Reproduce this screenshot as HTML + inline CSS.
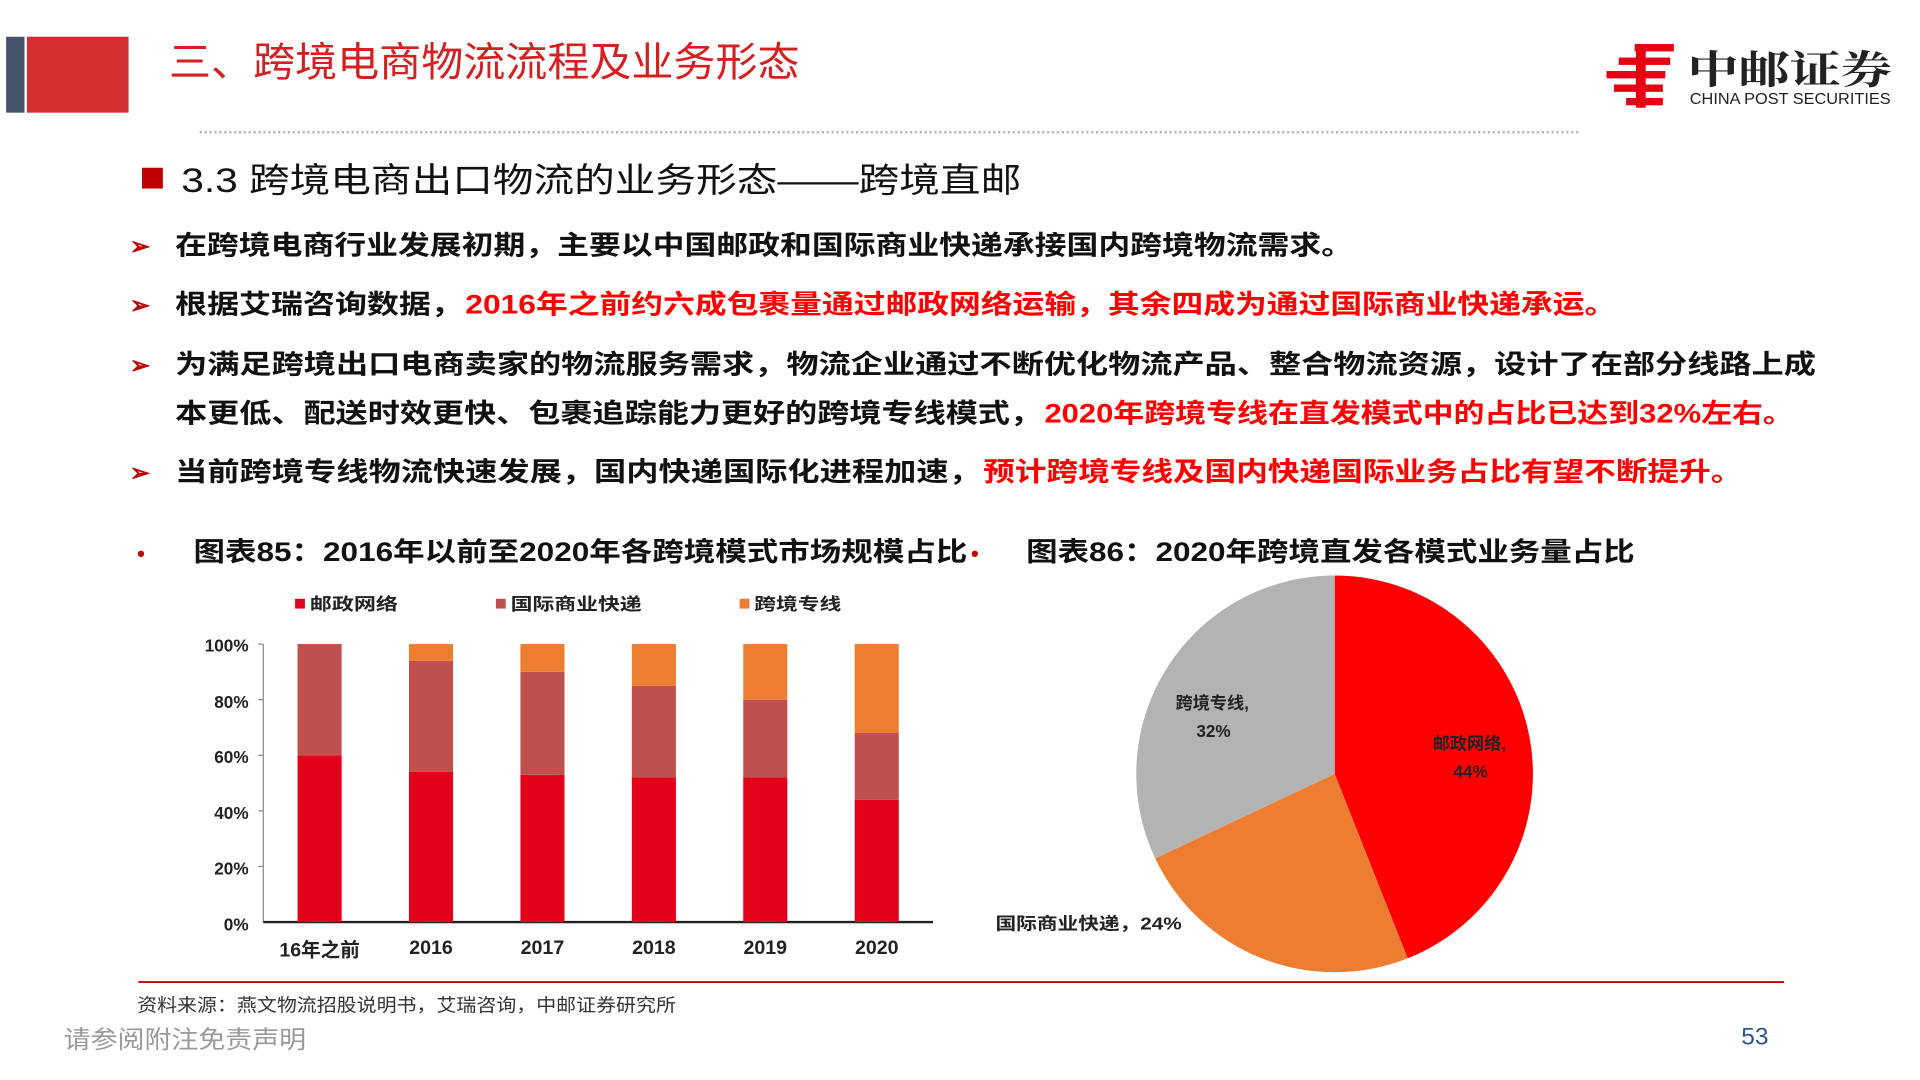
<!DOCTYPE html>
<html><head><meta charset="utf-8"><style>
html,body{margin:0;padding:0;background:#fff;width:1920px;height:1080px;overflow:hidden}
svg{display:block}
text{font-family:"Liberation Sans","Noto Sans CJK SC",sans-serif}
.k{font-family:"Liberation Serif","Noto Serif CJK SC",serif;font-weight:bold}
</style></head><body>
<svg width="1920" height="1080" viewBox="0 0 1568 882" xmlns="http://www.w3.org/2000/svg">
<rect x="5" y="30" width="15" height="62" fill="#44546A"/>
<rect x="22" y="30" width="83" height="62" fill="#D32F2F"/>
<text x="138" y="62" font-size="33" fill="#D42020" textLength="515" lengthAdjust="spacingAndGlyphs">三、跨境电商物流流程及业务形态</text>
<line x1="163" y1="108" x2="1290" y2="108" stroke="#bbb" stroke-width="2" stroke-dasharray="2 2"/>
<g fill="#E60012">
<rect x="1335" y="36" width="32" height="6"/><rect x="1322" y="47" width="42" height="6"/>
<rect x="1312" y="58" width="48" height="6"/><rect x="1318" y="69" width="40" height="6"/>
<rect x="1328" y="80" width="30" height="6"/><rect x="1336" y="38" width="8" height="50"/>
</g>
<text x="1378" y="68" font-size="32" fill="#222" class="k" textLength="167" lengthAdjust="spacingAndGlyphs">中邮证券</text>
<text x="1380" y="85" font-size="12.5" fill="#222" textLength="164" lengthAdjust="spacingAndGlyphs">CHINA POST SECURITIES</text>

<rect x="116" y="137" width="17" height="17" fill="#C00000"/>
<text x="148" y="157" font-size="28" fill="#111" textLength="686" lengthAdjust="spacingAndGlyphs">3.3 跨境电商出口物流的业务形态——跨境直邮</text>

<g font-size="22" class="k" fill="#111" lengthAdjust="spacingAndGlyphs">
<text x="106" y="208" fill="#C00000" font-size="20">➢</text>
<text x="143" y="208" textLength="962" lengthAdjust="spacingAndGlyphs">在跨境电商行业发展初期，主要以中国邮政和国际商业快递承接国内跨境物流需求。</text>
<text x="106" y="256" fill="#C00000" font-size="20">➢</text>
<text x="143" y="256" textLength="235" lengthAdjust="spacingAndGlyphs">根据艾瑞咨询数据，</text>
<text x="380" y="256" fill="#FF0000" textLength="940" lengthAdjust="spacingAndGlyphs">2016年之前约六成包裹量通过邮政网络运输，其余四成为通过国际商业快递承运。</text>
<text x="106" y="305" fill="#C00000" font-size="20">➢</text>
<text x="143" y="305" textLength="1340" lengthAdjust="spacingAndGlyphs">为满足跨境出口电商卖家的物流服务需求，物流企业通过不断优化物流产品、整合物流资源，设计了在部分线路上成</text>
<text x="143" y="345" textLength="708" lengthAdjust="spacingAndGlyphs">本更低、配送时效更快、包裹追踪能力更好的跨境专线模式，</text>
<text x="853" y="345" fill="#FF0000" textLength="612" lengthAdjust="spacingAndGlyphs">2020年跨境专线在直发模式中的占比已达到32%左右。</text>
<text x="106" y="393" fill="#C00000" font-size="20">➢</text>
<text x="143" y="393" textLength="658" lengthAdjust="spacingAndGlyphs">当前跨境专线物流快速发展，国内快递国际化进程加速，</text>
<text x="803" y="393" fill="#FF0000" textLength="620" lengthAdjust="spacingAndGlyphs">预计跨境专线及国内快递国际业务占比有望不断提升。</text>
<text x="112" y="458" fill="#C00000" font-size="18">•</text>
<text x="158" y="458" textLength="632" lengthAdjust="spacingAndGlyphs">图表85：2016年以前至2020年各跨境模式市场规模占比</text>
<text x="793" y="458" fill="#C00000" font-size="18">•</text>
<text x="838" y="458" textLength="497" lengthAdjust="spacingAndGlyphs">图表86：2020年跨境直发各模式业务量占比</text>
</g>

<g font-size="14" class="k" fill="#222">
<rect x="241" y="489" width="8" height="8" fill="#E2001A"/><text x="253" y="498" textLength="72" lengthAdjust="spacingAndGlyphs">邮政网络</text>
<rect x="405" y="489" width="8" height="8" fill="#C0504D"/><text x="417" y="498" textLength="107" lengthAdjust="spacingAndGlyphs">国际商业快递</text>
<rect x="604" y="489" width="8" height="8" fill="#ED7D31"/><text x="616" y="498" textLength="71" lengthAdjust="spacingAndGlyphs">跨境专线</text>
</g>
<g font-size="14" class="k" fill="#222" text-anchor="end">
<text x="203" y="532">100%</text><text x="203" y="578">80%</text><text x="203" y="623">60%</text>
<text x="203" y="669">40%</text><text x="203" y="714">20%</text><text x="203" y="760">0%</text>
</g>
<g stroke="#888" stroke-width="1">
<line x1="211" y1="526" x2="215" y2="526"/><line x1="211" y1="571.4" x2="215" y2="571.4"/>
<line x1="211" y1="616.8" x2="215" y2="616.8"/><line x1="211" y1="662.2" x2="215" y2="662.2"/>
<line x1="211" y1="707.6" x2="215" y2="707.6"/>
<line x1="215" y1="526" x2="215" y2="753"/>
</g>
<line x1="215" y1="753" x2="762" y2="753" stroke="#222" stroke-width="2"/>
<g>
<rect x="243" y="616.8" width="36" height="136.2" fill="#E2001A"/><rect x="243" y="526" width="36" height="90.8" fill="#C0504D"/>
<rect x="334" y="630.4" width="36" height="122.6" fill="#E2001A"/><rect x="334" y="539.6" width="36" height="90.8" fill="#C0504D"/><rect x="334" y="526" width="36" height="13.6" fill="#ED7D31"/>
<rect x="425" y="632.7" width="36" height="120.3" fill="#E2001A"/><rect x="425" y="548.7" width="36" height="84" fill="#C0504D"/><rect x="425" y="526" width="36" height="22.7" fill="#ED7D31"/>
<rect x="516" y="635" width="36" height="118" fill="#E2001A"/><rect x="516" y="560" width="36" height="75" fill="#C0504D"/><rect x="516" y="526" width="36" height="34" fill="#ED7D31"/>
<rect x="607" y="635" width="36" height="118" fill="#E2001A"/><rect x="607" y="571.4" width="36" height="63.6" fill="#C0504D"/><rect x="607" y="526" width="36" height="45.4" fill="#ED7D31"/>
<rect x="698" y="653.1" width="36" height="99.9" fill="#E2001A"/><rect x="698" y="598.6" width="36" height="54.5" fill="#C0504D"/><rect x="698" y="526" width="36" height="72.6" fill="#ED7D31"/>
</g>
<g font-size="16" class="k" fill="#222" text-anchor="middle">
<text x="261" y="781">16年之前</text><text x="352" y="779">2016</text><text x="443" y="779">2017</text>
<text x="534" y="779">2018</text><text x="625" y="779">2019</text><text x="716" y="779">2020</text>
</g>

<path d="M1090,632 L1090,470 A162,162 0 0 1 1149.6,782.6 Z" fill="#FF0000"/>
<path d="M1090,632 L1149.6,782.6 A162,162 0 0 1 943.4,701 Z" fill="#ED7D31"/>
<path d="M1090,632 L943.4,701 A162,162 0 0 1 1090,470 Z" fill="#B3B3B3"/>
<g font-size="14" class="k" fill="#222" text-anchor="middle">
<text x="990" y="579">跨境专线,</text><text x="991" y="602">32%</text>
<text x="1200" y="612">邮政网络,</text><text x="1201" y="635">44%</text>
<text x="889" y="759" textLength="152" lengthAdjust="spacingAndGlyphs">国际商业快递，24%</text>
</g>

<line x1="113" y1="802" x2="1457" y2="802" stroke="#C00000" stroke-width="1.5"/>
<text x="112" y="826" font-size="15" fill="#333" textLength="440" lengthAdjust="spacingAndGlyphs">资料来源：燕文物流招股说明书，艾瑞咨询，中邮证券研究所</text>
<text x="52" y="856" font-size="20" fill="#999" textLength="198" lengthAdjust="spacingAndGlyphs">请参阅附注免责声明</text>
<text x="1422" y="853" font-size="20" fill="#2F5597">53</text>
</svg>
</body></html>
